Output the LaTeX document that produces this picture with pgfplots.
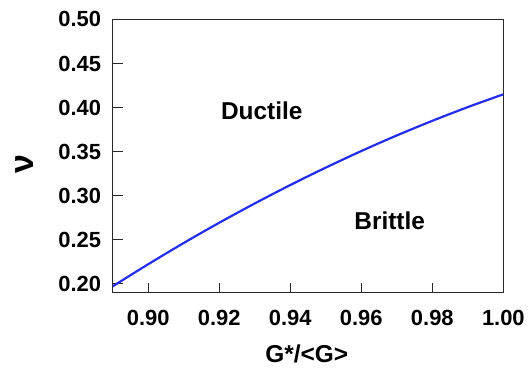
\documentclass[border=0pt]{standalone}
\usepackage{pgfplots}
\pgfplotsset{compat=1.18}
\usepackage{fontspec}
\setmainfont{Liberation Sans}
\definecolor{curveblue}{RGB}{35,45,235}
\definecolor{axgray}{RGB}{40,40,40}
\begin{document}
\begin{tikzpicture}
\path (-113pt,-76pt) rectangle (415pt,293.5pt);
\begin{axis}[
  at={(0pt,0pt)}, anchor=south west,
  scale only axis,
  width=392pt, height=274pt,
  xmin=0.89, xmax=1.00,
  ymin=0.19, ymax=0.50,
  axis line style={axgray, line width=1.2pt},
  xtick={0.90,0.92,...,1.001},
  ytick={0.20,0.25,...,0.501},
  tick align=inside,
  xtick pos=bottom, ytick pos=left,
  major tick length=10pt,
  tick style={axgray, line width=1.1pt},
  /pgf/number format/assume math mode=true,
  /pgf/number format/.cd, fixed, fixed zerofill, precision=2, /pgfplots/.cd,
  ticklabel style={font=\fontsize{22}{26}\selectfont\bfseries},
  xticklabel style={yshift=-14pt},
  yticklabel style={xshift=-8pt},
  xlabel={G*/<G>},
  ylabel={ν},
  xlabel style={font=\fontsize{24.5}{28}\selectfont\bfseries, at={(axis description cs:0.497,-0.225)}, anchor=center},
  ylabel style={font=\fontsize{34}{38}\selectfont\bfseries, at={(axis description cs:-0.225,0.47)}, anchor=center},
  clip=true,
]
\addplot[curveblue, line width=2.2pt, smooth] coordinates {
  (0.890,0.1970) (0.900,0.2221) (0.910,0.2462) (0.920,0.2692) (0.930,0.2911)
  (0.940,0.3120) (0.950,0.3318) (0.960,0.3506) (0.970,0.3683) (0.980,0.3849)
  (0.990,0.4005) (1.000,0.4150)
};
\node[font=\fontsize{24.5}{28}\selectfont\bfseries] at (axis cs:0.932,0.396) {Ductile};
\node[font=\fontsize{24.5}{28}\selectfont\bfseries] at (axis cs:0.968,0.271) {Brittle};
\end{axis}
\end{tikzpicture}
\end{document}
